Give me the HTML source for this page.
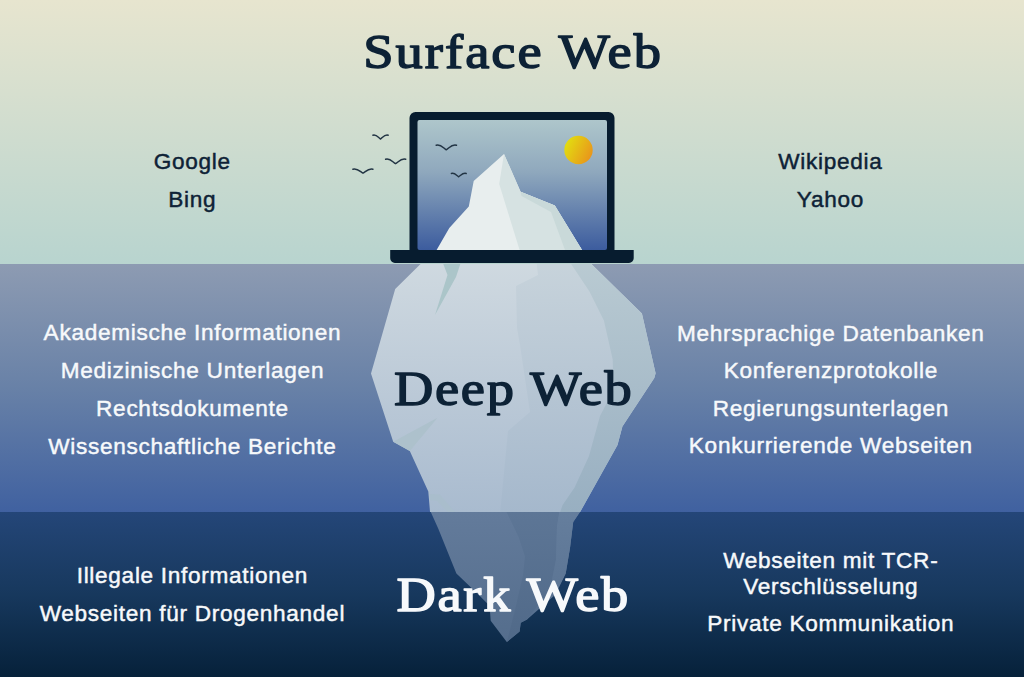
<!DOCTYPE html>
<html><head><meta charset="utf-8">
<style>
html,body{margin:0;padding:0;width:1024px;height:677px;overflow:hidden;background:#0a2540}
svg{display:block}
.t{font-family:"Liberation Sans",sans-serif;font-size:22.6px;letter-spacing:0.7px;text-anchor:middle}
.dk{fill:#0e2236;stroke:#0e2236;stroke-width:0.45px}
.wh{fill:#f7f9fb;stroke:#f7f9fb;stroke-width:0.45px}
.h{font-family:"Liberation Serif",serif;font-weight:normal;font-size:49.5px;text-anchor:middle;stroke-width:1.45px;stroke-linejoin:round}
</style></head>
<body>
<svg width="1024" height="677" viewBox="0 0 1024 677">
<defs>
  <linearGradient id="gSurf" x1="0" y1="0" x2="0" y2="1">
    <stop offset="0" stop-color="#e7e5cf"/>
    <stop offset="1" stop-color="#b8d4cf"/>
  </linearGradient>
  <linearGradient id="gDeep" x1="0" y1="0" x2="0" y2="1">
    <stop offset="0" stop-color="#8d9bb2"/>
    <stop offset="0.5" stop-color="#6881a7"/>
    <stop offset="1" stop-color="#4061a0"/>
  </linearGradient>
  <linearGradient id="gDark" x1="0" y1="0" x2="0" y2="1">
    <stop offset="0" stop-color="#244678"/>
    <stop offset="0.5" stop-color="#17385d"/>
    <stop offset="1" stop-color="#06213a"/>
  </linearGradient>
  <linearGradient id="gScreen" x1="0" y1="0" x2="0" y2="1">
    <stop offset="0" stop-color="#aec6cb"/>
    <stop offset="0.4" stop-color="#8fa8bd"/>
    <stop offset="1" stop-color="#3c5c9e"/>
  </linearGradient>
  <linearGradient id="gSun" x1="0" y1="0.25" x2="1" y2="0.75">
    <stop offset="0" stop-color="#e2e010"/>
    <stop offset="1" stop-color="#e9921c"/>
  </linearGradient>
  <linearGradient id="gIceDeepA" gradientUnits="userSpaceOnUse" x1="0" y1="264" x2="0" y2="512">
    <stop offset="0" stop-color="#cfd9e0"/>
    <stop offset="1" stop-color="#a9bbcf"/>
  </linearGradient>
  <linearGradient id="gIceDeepB" gradientUnits="userSpaceOnUse" x1="0" y1="264" x2="0" y2="512">
    <stop offset="0" stop-color="#c7d3db"/>
    <stop offset="1" stop-color="#a5b8cc"/>
  </linearGradient>
  <linearGradient id="gIceDeepC" gradientUnits="userSpaceOnUse" x1="0" y1="264" x2="0" y2="512">
    <stop offset="0" stop-color="#b9cad2"/>
    <stop offset="1" stop-color="#98afc1"/>
  </linearGradient>
  <linearGradient id="gIceDarkA" gradientUnits="userSpaceOnUse" x1="0" y1="512" x2="0" y2="645">
    <stop offset="0" stop-color="#637b9b"/>
    <stop offset="1" stop-color="#546d8c"/>
  </linearGradient>
  <linearGradient id="gIceDarkB" gradientUnits="userSpaceOnUse" x1="0" y1="512" x2="0" y2="645">
    <stop offset="0" stop-color="#5d7696"/>
    <stop offset="1" stop-color="#506988"/>
  </linearGradient>
  <linearGradient id="gIceDarkC" gradientUnits="userSpaceOnUse" x1="0" y1="512" x2="0" y2="645">
    <stop offset="0" stop-color="#657e9d"/>
    <stop offset="1" stop-color="#566f8e"/>
  </linearGradient>
  <clipPath id="cDeep"><rect x="0" y="264" width="1024" height="248"/></clipPath>
  <clipPath id="cDark"><rect x="0" y="512" width="1024" height="165"/></clipPath>
</defs>

<rect x="0" y="0" width="1024" height="264" fill="url(#gSurf)"/>
<rect x="0" y="264" width="1024" height="248" fill="url(#gDeep)"/>
<rect x="0" y="512" width="1024" height="165" fill="url(#gDark)"/>

<!-- underwater iceberg: deep section -->
<g clip-path="url(#cDeep)">
  <polygon fill="url(#gIceDeepA)" points="422.6,262 589.3,262 641.9,313.6 655.6,373.3 654.3,378 622.4,426.5 617.5,445 579,514 430.2,514 428.3,491.6 409.8,451 393.2,441.7 371,373.5 395.2,289"/>
  <polygon fill="url(#gIceDeepB)" points="536.5,262 589.3,262 615,300 632,378 604,420 590,470 579,514 500,514 508,431 530,412 520,345 517,328 516,286 538,275"/>
  <polygon fill="url(#gIceDeepC)" points="569.8,262 589.3,262 641.9,313.6 655.6,373.3 654.3,378 622.4,426.5 617.5,445 579,514 559.5,514 562.6,505 574.6,487.6 589,456 600,416 613.6,390 612.7,359.4 603.9,320.4 589.3,291.2"/>
  <polygon fill="#abc5c9" points="442.5,262 461,262 456,277 435,315 447.5,275"/>
  <polygon fill="#adc1cc" points="393.2,441.7 437.5,417.7 409.8,451"/>
  <polygon fill="#a9bdcc" points="429.5,494 439.7,494.5 455,512 448,512 437,501 429.5,500"/>
</g>
<!-- underwater iceberg: dark section -->
<g clip-path="url(#cDark)">
  <polygon fill="url(#gIceDarkA)" points="429,508 583,508 579.6,512.5 573.2,522 570,548 565.7,573.6 555,595 527,619.6 520.7,622.8 519.6,631.4 506.8,642.1 490.7,620.7 489.6,605.7 476.8,592.9 456.4,573.6 438.2,528.6"/>
  <polygon fill="url(#gIceDarkB)" points="504.6,508 560,508 557,526.4 556,560 550,590 527,619.6 520.7,622.8 519.6,631.4 506.8,642.1 515,610 522.9,575.7 525,556.4 518.6,537"/>
  <polygon fill="url(#gIceDarkC)" points="560,508 583,508 579.6,512.5 573.2,522 570,548 565.7,573.6 555,595 550,590 556,560 557,526.4"/>
</g>

<!-- laptop -->
<rect x="409.5" y="112" width="205" height="145" rx="6" fill="#071c2f"/>
<rect x="417.5" y="120" width="189.5" height="130" rx="2" fill="url(#gScreen)"/>
<circle cx="578.5" cy="150" r="14.2" fill="url(#gSun)"/>
<g>
  <polygon fill="#e8eeee" points="504,154 520.6,191.8 554.8,205.4 582,250 436.6,250 449.3,228 468.8,206.4 473.7,181"/>
  <polygon fill="#d6e2e2" points="504,154 520.6,191.8 554.8,205.4 582,250 519.6,250 499.2,184"/>
  <polygon fill="#c9d9d9" points="520.6,191.8 554.8,205.4 582,250 565,250 551,212 521.5,196"/>
</g>
<path fill="#071c2f" d="M390.2 250 H633.7 V258.3 A4.7 4.7 0 0 1 629 263 H394.9 A4.7 4.7 0 0 1 390.2 258.3 Z"/>

<!-- birds outside -->
<g fill="none" stroke="#223444" stroke-width="1.45" stroke-linecap="round" stroke-linejoin="miter">
  <path d="M372.9 135.2 C376.3 133.9 378.6 137.9 380.5 139 C382.4 137.9 384.7 133.9 388.2 135.2"/>
  <path d="M385.6 159.3 C390.1 157.8 393.0 162.4 395.5 163.7 C398.1 162.4 401.1 157.8 405.7 159.3"/>
  <path d="M352.9 169.2 C357.4 167.8 360.5 172.0 363 173.2 C365.5 172.0 368.4 167.8 372.9 169.2"/>
  <path d="M436.2 145.3 C440.7 143.7 443.7 148.5 446.2 149.8 C448.8 148.5 451.9 143.7 456.5 145.3"/>
  <path d="M451.4 173.5 C454.6 172.3 456.8 175.8 458.6 176.8 C460.5 175.8 462.8 172.3 466.2 173.5"/>
</g>

<!-- titles -->
<text class="h" transform="translate(513.1 68.3) scale(1.1 1)" x="0" y="0" fill="#0d2236" stroke="#0d2236" letter-spacing="1.85">Surface Web</text>
<text class="h" transform="translate(513.7 404.5) scale(1.1 1)" x="0" y="0" fill="#0d2236" stroke="#0d2236" letter-spacing="1.55">Deep Web</text>
<text class="h" transform="translate(513.2 610.6) scale(1.1 1)" x="0" y="0" fill="#f7f9fb" stroke="#f7f9fb" letter-spacing="1.57">Dark Web</text>

<!-- surface -->
<text class="t dk" x="192.2" y="169">Google</text>
<text class="t dk" x="192.2" y="206.6">Bing</text>
<text class="t dk" x="830.4" y="169">Wikipedia</text>
<text class="t dk" x="830.4" y="206.8">Yahoo</text>

<!-- deep -->
<text class="t wh" x="192.4" y="340.4">Akademische Informationen</text>
<text class="t wh" x="192.4" y="378">Medizinische Unterlagen</text>
<text class="t wh" x="192.4" y="416">Rechtsdokumente</text>
<text class="t wh" x="192.4" y="453.7">Wissenschaftliche Berichte</text>
<text class="t wh" x="830.8" y="340.9">Mehrsprachige Datenbanken</text>
<text class="t wh" x="830.8" y="378.2">Konferenzprotokolle</text>
<text class="t wh" x="830.8" y="415.5">Regierungsunterlagen</text>
<text class="t wh" x="830.8" y="452.9">Konkurrierende Webseiten</text>

<!-- dark -->
<text class="t wh" x="192.4" y="583.3">Illegale Informationen</text>
<text class="t wh" x="192.4" y="620.7">Webseiten für Drogenhandel</text>
<text class="t wh" x="830.8" y="568.4">Webseiten mit TCR-</text>
<text class="t wh" x="830.8" y="594">Verschlüsselung</text>
<text class="t wh" x="830.8" y="631.3">Private Kommunikation</text>
</svg>
</body></html>
